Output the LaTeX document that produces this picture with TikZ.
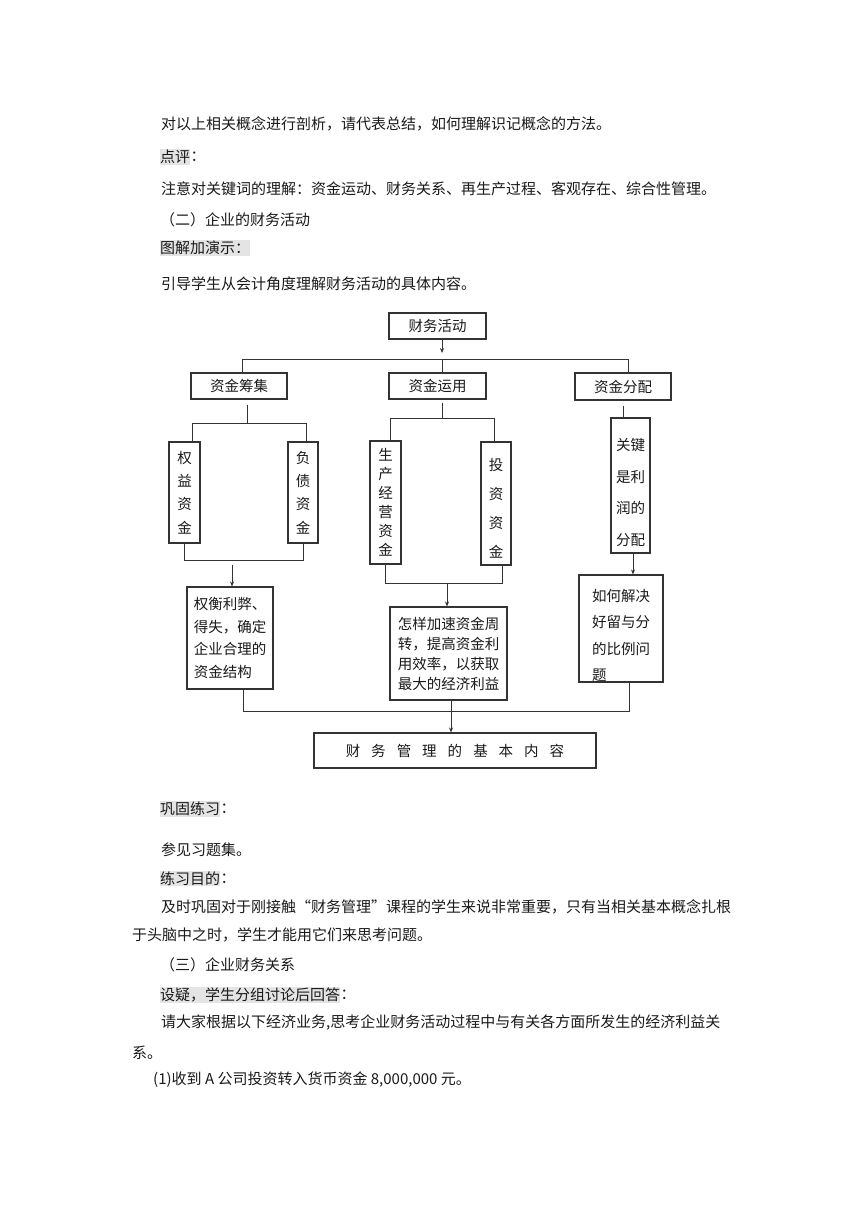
\documentclass[tikz,border=0pt]{standalone}
\usepackage{fontspec}
\setmainfont{Noto Sans CJK SC}
\usepackage{xcolor}
\usetikzlibrary{arrows.meta, positioning, calc}
\definecolor{inkline}{HTML}{333333}
\definecolor{inktext}{HTML}{1A1A1A}
\definecolor{markgray}{HTML}{E4E4E4}
\newcommand{\wide}{\hspace{11pt}}

\begin{document}
\begin{tikzpicture}[
  x=1pt, y=-1pt,
  para/.style   = {anchor=west, inner sep=0pt, text=inktext,
                   font=\fontsize{15}{18}\selectfont},
  hilite/.style = {para, fill=markgray, inner ysep=1pt},
  box/.style    = {draw=inkline, line width=1.1pt, inner sep=0pt, align=center,
                   text=inktext, font=\fontsize{14.5}{18}\selectfont},
  boxtxt/.style = {inner sep=0pt, text=inktext, font=\fontsize{14.5}{18}\selectfont},
  link/.style   = {draw=inkline, line width=1pt},
  flow/.style   = {link, -{Stealth[length=5pt, width=4pt]}},
]
\useasboundingbox[fill=white] (0,0) rectangle (860,1216);

% ---- text above the chart
\node[para] (intro) at (161,124) {对以上相关概念进行剖析，请代表总结，如何理解识记概念的方法。};
\node[hilite] (remark) at (160,157) {点评};
\node[para, right=0pt of remark] (remarkc) {：};
\node[para] (keys) at (161,189) {注意对关键词的理解：资金运动、财务关系、再生产过程、客观存在、综合性管理。};
\node[para] (sec2) at (160,220) {（二）企业的财务活动};
\node[hilite] (demo) at (160,248) {图解加演示：};
\node[para] (guide) at (161,284) {引导学生从会计角度理解财务活动的具体内容。};

% ---- the chart
\node[box, minimum width=97, minimum height=26] (top) at (437.5,326) {财务活动};
\node[box, minimum width=96, minimum height=26] (raise) at (239,386) {资金筹集};
\node[box, minimum width=97, minimum height=26] (use) at (437.5,386) {资金运用};
\node[box, minimum width=96, minimum height=27] (alloc) at (623,386.5) {资金分配};

\node[box, minimum width=31, minimum height=101, font=\fontsize{14.5}{23.3}\selectfont]
     (equity) at (184.5,492.5) {权\\益\\资\\金};
\node[box, minimum width=30, minimum height=101, font=\fontsize{14.5}{23.3}\selectfont]
     (debt) at (303,492.5) {负\\债\\资\\金};
\node[box, minimum width=31, minimum height=123, font=\fontsize{14.5}{19}\selectfont]
     (prod) at (385.5,502.5) {生\\产\\经\\营\\资\\金};
\node[box, minimum width=30, minimum height=123] (invest) at (496,503.5) {};
\node[boxtxt, align=center, font=\fontsize{14.5}{29}\selectfont]
     (investtxt) at ($(invest)+(0,5)$) {投\\资\\资\\金};
\node[box, minimum width=39, minimum height=135] (key) at (630.5,485.5) {};
\node[boxtxt, align=center, font=\fontsize{14.5}{31.5}\selectfont]
     (keytxt) at ($(key)+(0,7)$) {关键\\是利\\润的\\分配};

\node[box, minimum width=86, minimum height=102, align=left, font=\fontsize{14.5}{22.5}\selectfont]
     (weigh) at (230,638) {权衡利弊、\\得失，确定\\企业合理的\\资金结构};
\node[box, minimum width=117, minimum height=93, align=left, font=\fontsize{14.5}{20}\selectfont]
     (speed) at (448.5,653.5) {怎样加速资金周\\转，提高资金利\\用效率，以获取\\最大的经济利益};
\node[box, minimum width=84, minimum height=107] (how) at (621,628.5) {};
\node[boxtxt, align=left, font=\fontsize{14.5}{26.3}\selectfont]
     (howtxt) at ($(how)+(0,7)$) {如何解决\\好留与分\\的比例问\\题\phantom{比例问}};

\node[box, minimum width=282, minimum height=35] (base) at (455,750.5)
     {财\wide 务\wide 管\wide 理\wide 的\wide 基\wide 本\wide 内\wide 容};

% top split
\coordinate (hub) at (442,359);
\coordinate (busL) at (242,359);
\coordinate (busR) at (628,359);
\draw[flow] (top.south -| hub) -- ($(hub)+(0,-6)$);
\draw[link] (raise.north -| busL) -- (busL) -- (busR) -- (alloc.north -| busR);
\draw[link] (hub) -- (use.north -| hub);

% raising funds
\coordinate (raisehub) at (247,423);
\coordinate (eqx) at (192,423);
\coordinate (debtx) at (306,423);
\coordinate (raiseout) at (232,560);
\draw[link, shorten <=5pt] (raise.south -| raisehub) -- (raisehub);
\draw[link] (equity.north -| eqx) -- (eqx) -- (debtx) -- (debt.north -| debtx);
\draw[link] (equity.south) -- (equity.south |- raiseout) -- (debt.south |- raiseout) -- (debt.south);
\draw[flow, shorten <=5pt] (raiseout) -- (weigh.north -| raiseout);

% using funds
\coordinate (usehub) at (442,418);
\coordinate (prodx) at (390,418);
\coordinate (invx) at (494,418);
\coordinate (useout) at (447,583);
\coordinate (invout) at (502,583);
\draw[link, shorten <=3pt] (use.south -| usehub) -- (usehub);
\draw[link] (prod.north -| prodx) -- (prodx) -- (invx) -- (invest.north -| invx);
\draw[link] (prod.south) -- (prod.south |- useout) -- (invout) -- (invest.south -| invout);
\draw[flow] (useout) -- (speed.north -| useout);

% allocating
\coordinate (allocx) at (623,405);
\coordinate (keyx) at (633,560);
\draw[link, shorten <=5pt] (alloc.south -| allocx) -- (key.north -| allocx);
\draw[flow] (key.south -| keyx) -- (how.north -| keyx);

% merge into the base box
\coordinate (merge) at (451,711);
\coordinate (weighx) at (243,711);
\coordinate (howx) at (629,711);
\draw[link] (weigh.south -| weighx) -- (weighx) -- (howx) -- (how.south -| howx);
\draw[flow] (speed.south -| merge) -- (base.north -| merge);

% ---- text below the chart
\node[hilite] (drill) at (160,809) {巩固练习};
\node[para, right=0pt of drill] (drillc) {：};
\node[para] (see) at (161,850) {参见习题集。};
\node[hilite] (aim) at (160,878.5) {练习目的};
\node[para, right=0pt of aim] (aimc) {：};
\node[para] (why1) at (161,907) {及时巩固对于刚接触“财务管理”课程的学生来说非常重要，只有当相关基本概念扎根};
\node[para] (why2) at (132,935) {于头脑中之时，学生才能用它们来思考问题。};
\node[para] (sec3) at (160,965) {（三）企业财务关系};
\node[hilite] (ask) at (160,995) {设疑，学生分组讨论后回答};
\node[para, right=0pt of ask] (askc) {：};
\node[para] (task1) at (161,1023)
     {请大家根据以下经济业务,思考企业财务活动过程中与有关各方面所发生的经济利益关};
\node[para] (task2) at (132,1053) {系。};
\node[para] (case1) at (153,1080) {(1)收到 A 公司投资转入货币资金 8,000,000 元。};

\end{tikzpicture}
\end{document}
